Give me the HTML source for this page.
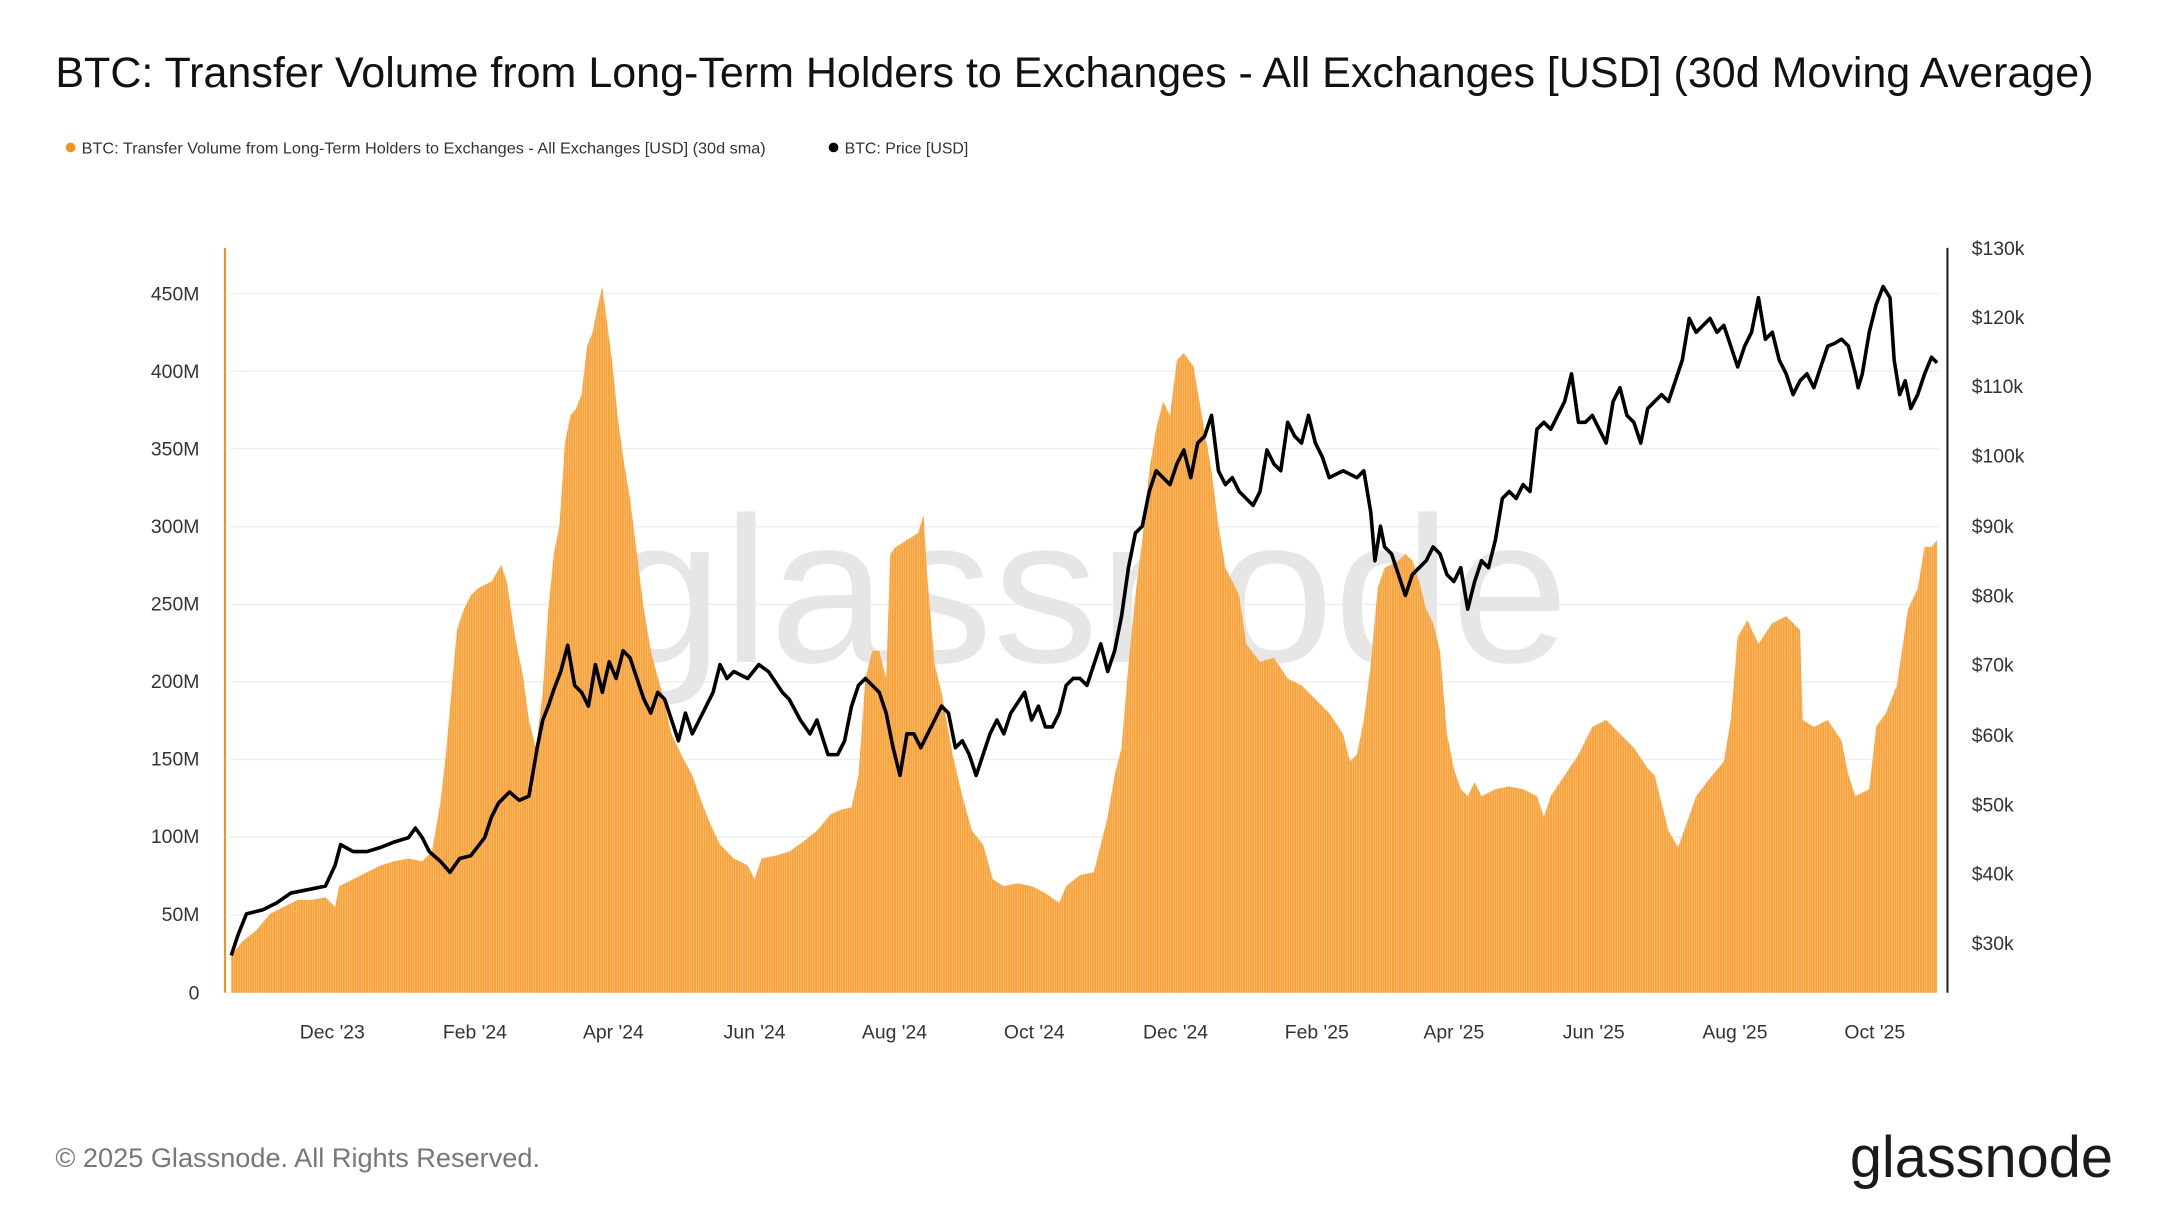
<!DOCTYPE html>
<html><head><meta charset="utf-8"><style>
html,body{margin:0;padding:0;background:#fff;}
svg{display:block;}
text{font-family:"Liberation Sans",sans-serif;}
</style></head><body>
<svg width="2160" height="1215" viewBox="0 0 1560 877.5" xmlns="http://www.w3.org/2000/svg">
<defs>
<pattern id="bars" patternUnits="userSpaceOnUse" width="1.68" height="10" x="167" y="0">
<rect width="1.68" height="10" fill="#f7a23a"/>
<rect x="1.38" width="0.3" height="10" fill="#fbd3a0"/>
</pattern>
</defs>
<rect width="1560" height="877.5" fill="#fff"/>
<text x="40" y="63" font-size="31" fill="#111" textLength="1472" lengthAdjust="spacingAndGlyphs">BTC: Transfer Volume from Long-Term Holders to Exchanges - All Exchanges [USD] (30d Moving Average)</text>
<circle cx="51" cy="106.5" r="3.5" fill="#f7931a"/>
<text x="59" y="111" font-size="11.5" fill="#333" textLength="494" lengthAdjust="spacingAndGlyphs">BTC: Transfer Volume from Long-Term Holders to Exchanges - All Exchanges [USD] (30d sma)</text>
<circle cx="602" cy="106.5" r="3.5" fill="#000"/>
<text x="610" y="111" font-size="11.5" fill="#333">BTC: Price [USD]</text>
<g stroke="#eeeeee" stroke-width="1">
<line x1="166" x2="1400" y1="212" y2="212"/><line x1="166" x2="1400" y1="268" y2="268"/>
<line x1="166" x2="1400" y1="324" y2="324"/><line x1="166" x2="1400" y1="380.5" y2="380.5"/>
<line x1="166" x2="1400" y1="436.5" y2="436.5"/><line x1="166" x2="1400" y1="492.5" y2="492.5"/>
<line x1="166" x2="1400" y1="548.5" y2="548.5"/><line x1="166" x2="1400" y1="604.5" y2="604.5"/>
<line x1="166" x2="1400" y1="661" y2="661"/>
</g>
<text x="437" y="478" font-size="150" fill="#e6e6e6" textLength="696" lengthAdjust="spacingAndGlyphs">glassnode</text>
<g font-size="14" fill="#333" text-anchor="end">
<text x="144" y="217">450M</text><text x="144" y="273">400M</text><text x="144" y="329">350M</text>
<text x="144" y="385">300M</text><text x="144" y="441">250M</text><text x="144" y="497">200M</text>
<text x="144" y="553">150M</text><text x="144" y="609">100M</text><text x="144" y="665">50M</text>
<text x="144" y="722">0</text>
</g>
<g font-size="14" fill="#333">
<text x="1424" y="184">$130k</text><text x="1424" y="234">$120k</text><text x="1424" y="284">$110k</text>
<text x="1424" y="334">$100k</text><text x="1424" y="385">$90k</text><text x="1424" y="435">$80k</text>
<text x="1424" y="485">$70k</text><text x="1424" y="536">$60k</text><text x="1424" y="586">$50k</text>
<text x="1424" y="636">$40k</text><text x="1424" y="686">$30k</text>
</g>
<g font-size="14" fill="#333" text-anchor="middle">
<text x="240" y="750">Dec '23</text><text x="343" y="750">Feb '24</text><text x="443" y="750">Apr '24</text>
<text x="545" y="750">Jun '24</text><text x="646" y="750">Aug '24</text><text x="747" y="750">Oct '24</text>
<text x="849" y="750">Dec '24</text><text x="951" y="750">Feb '25</text><text x="1050" y="750">Apr '25</text>
<text x="1151" y="750">Jun '25</text><text x="1253" y="750">Aug '25</text><text x="1354" y="750">Oct '25</text>
</g>
<path fill="url(#bars)" d="M167,717 L167,690 175,680 185,672 195,660 205,655 215,650 225,650 235,648 242,655 245,640 255,635 265,630 275,625 285,622 295,620 305,622 312,615 318,580 322,545 326,500 330,455 335,440 340,430 345,425 355,420 362,408 366,420 372,460 378,490 382,520 387,540 392,500 396,440 400,400 404,380 408,320 412,300 416,295 420,285 424,250 428,240 432,220 435,207 438,230 442,260 446,300 450,330 455,360 460,400 465,440 470,470 478,500 485,530 492,545 500,560 507,580 513,595 520,610 530,620 540,625 545,635 550,620 560,618 570,615 580,608 590,600 600,588 607,585 615,583 620,560 625,490 630,470 635,470 640,490 643,400 647,395 655,390 663,385 667,372 670,420 675,480 680,500 688,545 695,575 702,600 710,610 717,635 725,640 735,638 745,640 755,645 765,652 770,640 780,632 790,630 795,610 800,590 805,560 810,540 815,480 820,430 825,390 830,340 835,310 840,290 845,300 850,260 855,255 862,265 868,300 875,340 880,380 885,410 890,420 895,430 900,465 910,478 920,475 930,490 940,495 950,505 960,515 970,530 975,550 980,545 985,520 990,480 995,425 1000,410 1010,405 1015,400 1020,405 1025,420 1030,440 1035,450 1040,470 1045,530 1050,555 1055,570 1060,575 1065,565 1070,575 1080,570 1090,568 1100,570 1110,575 1115,590 1120,575 1130,560 1140,545 1150,525 1160,520 1170,530 1180,540 1190,555 1195,560 1200,580 1205,600 1212,612 1218,595 1225,575 1235,562 1245,550 1250,520 1255,460 1262,448 1270,465 1280,450 1290,445 1300,455 1302,520 1310,525 1320,520 1330,535 1335,560 1340,575 1350,570 1355,525 1362,515 1370,495 1378,440 1385,425 1390,395 1395,395 1399,390 1399,717 Z"/>
<polyline fill="none" stroke="#000" stroke-width="2.6" stroke-linejoin="round" points="167,690 172,675 178,660 190,657 200,652 210,645 220,643 235,640 242,625 246,610 255,615 265,615 275,612 285,608 295,605 300,598 305,605 310,615 318,622 325,630 332,620 340,618 350,605 355,590 360,580 368,572 375,578 382,575 388,540 392,520 396,510 400,498 405,485 410,466 415,495 420,500 425,510 430,480 435,500 440,478 445,490 450,470 455,475 460,490 465,505 470,515 475,500 480,505 485,520 490,535 495,515 500,530 505,520 510,510 515,500 520,480 525,490 530,485 540,490 548,480 555,485 565,500 570,505 578,520 585,530 590,520 598,545 605,545 610,535 615,510 620,495 625,490 630,495 635,500 640,515 645,540 650,560 655,530 660,530 665,540 670,530 675,520 680,510 685,515 690,540 695,535 700,545 705,560 710,545 715,530 720,520 725,530 730,515 740,500 745,520 750,510 755,525 760,525 765,515 770,495 775,490 780,490 785,495 790,480 795,465 800,485 805,470 810,445 815,410 820,385 825,380 830,355 835,340 840,345 845,350 850,335 855,325 860,345 865,320 870,315 875,300 880,340 885,350 890,345 895,355 900,360 905,365 910,355 915,325 920,335 925,340 930,305 935,315 940,320 945,300 950,320 955,330 960,345 970,340 980,345 985,340 990,370 993,405 997,380 1000,395 1005,400 1010,415 1015,430 1020,415 1025,410 1030,405 1035,395 1040,400 1045,415 1050,420 1055,410 1060,440 1065,420 1070,405 1075,410 1080,390 1085,360 1090,355 1095,360 1100,350 1105,355 1110,310 1115,305 1120,310 1125,300 1130,290 1135,270 1140,305 1145,305 1150,300 1155,310 1160,320 1165,290 1170,280 1175,300 1180,305 1185,320 1190,295 1195,290 1200,285 1205,290 1210,275 1215,260 1220,230 1225,240 1230,235 1235,230 1240,240 1245,235 1250,250 1255,265 1260,250 1265,240 1270,215 1275,245 1280,240 1285,260 1290,270 1295,285 1300,275 1305,270 1310,280 1315,265 1320,250 1325,248 1330,245 1335,250 1340,270 1342,280 1345,270 1350,240 1355,220 1360,207 1365,215 1368,260 1372,285 1376,275 1380,295 1385,285 1390,270 1395,258 1399,262"/>
<line x1="162.5" x2="162.5" y1="179" y2="717" stroke="#f7931a" stroke-width="1.5"/>
<line x1="1406.5" x2="1406.5" y1="179" y2="717" stroke="#222" stroke-width="1.5"/>
<text x="40" y="843" font-size="19.5" fill="#777" textLength="350" lengthAdjust="spacingAndGlyphs">© 2025 Glassnode. All Rights Reserved.</text>
<text x="1336" y="850" font-size="42" fill="#1a1a1a" textLength="190" lengthAdjust="spacingAndGlyphs">glassnode</text>
</svg>
</body></html>
